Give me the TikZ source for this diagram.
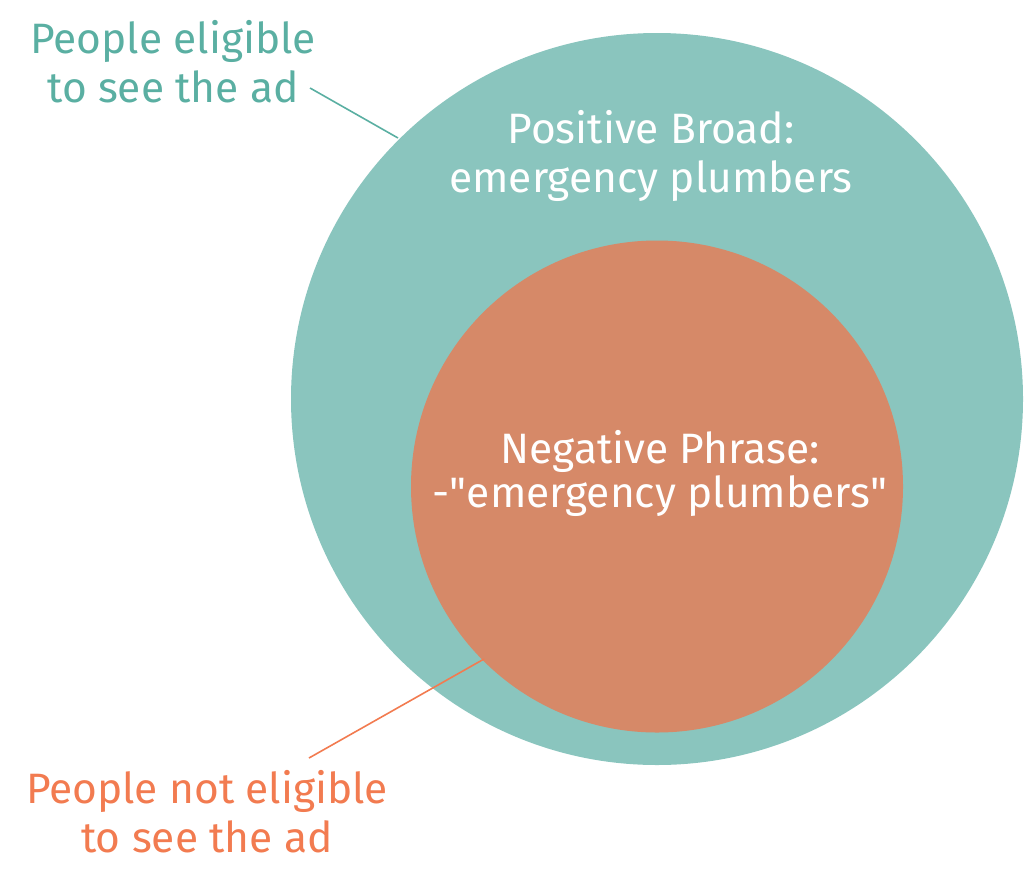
\documentclass[tikz,border=0pt]{standalone}
\usepackage{fontspec}
\setmainfont{Fira Sans}
\definecolor{tealfill}{HTML}{8AC5BE}
\definecolor{tealtext}{HTML}{5AAFA2}
\definecolor{orangefill}{HTML}{D68968}
\definecolor{orangetext}{HTML}{F27B50}
\begin{document}
\begin{tikzpicture}[x=1pt,y=-1pt,
  bigcirc/.style={circle,inner sep=0pt,draw=none},
  lbl/.style={inner sep=0pt,align=center,anchor=base,font=\fontsize{42.5}{49}\selectfont},
  leader/.style={line width=1.6pt}]
\useasboundingbox (0,0) rectangle (1024,889);
\node[bigcirc,fill=tealfill,minimum size=732pt] (broad) at (657,399) {};
\node[bigcirc,fill=orangefill,minimum size=492pt] (neg) at (657,486.5) {};
\node[lbl,text=tealtext] (elig) at (173,102) {People eligible\\to see the ad};
\node[lbl,text=orangetext] (nelig) at (207,852) {People not eligible\\to see the ad};
\node[lbl,text=white] (pos) at (651,192) {Positive Broad:\\emergency plumbers};
\node[lbl,text=white,font=\fontsize{42.5}{44}\selectfont] (negt) at (660,507) {Negative Phrase:\\-\textquotedbl emergency plumbers\textquotedbl};
\coordinate (e1) at (310,88);
\coordinate (e2) at (398,138);
\coordinate (n1) at (309,758);
\coordinate (n2) at (484,659);
\draw[leader,tealtext] (e1) -- (e2);
\draw[leader,orangetext] (n1) -- (n2);
\end{tikzpicture}
\end{document}
